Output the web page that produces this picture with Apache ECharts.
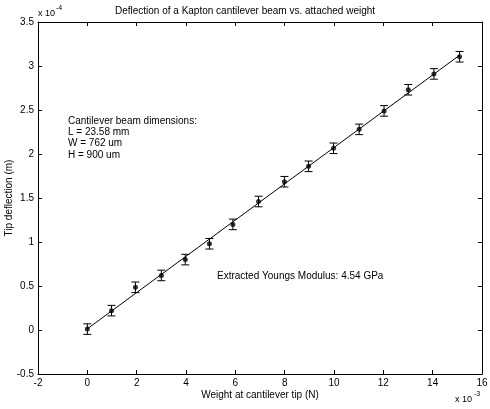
<!DOCTYPE html>
<html>
<head>
<meta charset="utf-8">
<script src="https://cdn.jsdelivr.net/npm/echarts@6/dist/echarts.min.js"></script>
<style>
  html, body { margin: 0; padding: 0; background: #fff; }
  #main { width: 490px; height: 409px; }
</style>
</head>
<body>
<div id="main"></div>
<script>
// weight at tip, x 10^-3 N
var weights = [0, 0.98, 1.95, 3.0, 3.97, 4.95, 5.9, 6.94, 7.99, 8.97, 9.98, 11.02, 12.03, 13.01, 14.05, 15.09];
// tip deflection, x 10^-4 m
var deflection = [0.01, 0.22, 0.485, 0.62, 0.8, 0.98, 1.2, 1.46, 1.685, 1.86, 2.065, 2.28, 2.49, 2.73, 2.91, 3.105];
// error bar half height, x 10^-4 m
var errHalf = [0.06, 0.06, 0.06, 0.06, 0.06, 0.06, 0.06, 0.06, 0.06, 0.06, 0.06, 0.06, 0.06, 0.06, 0.06, 0.06];
var notes = ["Cantilever beam dimensions:", "L = 23.58 mm", "W = 762 um", "H = 900 um"];

var font = "Liberation Sans";
var ink = "#000";

// least squares fit for the straight line
var n = weights.length, sx = 0, sy = 0, sxx = 0, sxy = 0;
for (var i = 0; i < n; i++) {
  sx += weights[i]; sy += deflection[i];
  sxx += weights[i] * weights[i]; sxy += weights[i] * deflection[i];
}
var slope = (n * sxy - sx * sy) / (n * sxx - sx * sx);
var icpt = (sy - slope * sx) / n;
var fitLine = [
  [weights[0], icpt + slope * weights[0]],
  [weights[n - 1], icpt + slope * weights[n - 1]]
];

var errData = weights.map(function (w, i) {
  return [w, deflection[i] - errHalf[i], deflection[i] + errHalf[i]];
});
var ptData = weights.map(function (w, i) { return [w, deflection[i]]; });

function axisBase(showLabel) {
  return {
    axisLine: { show: true, onZero: false, lineStyle: { color: ink, width: 1 } },
    axisTick: { show: true, inside: true, length: 4, lineStyle: { color: ink } },
    axisLabel: { show: showLabel, color: ink, fontFamily: font, fontSize: 10, margin: 4 },
    splitLine: { show: false }
  };
}

var nameStyle = { color: ink, fontFamily: font, fontSize: 10 };
var xAxes = [
  Object.assign(axisBase(true), { type: "value", min: -2, max: 16, interval: 2, position: "bottom",
    name: "Weight at cantilever tip (N)", nameLocation: "middle", nameGap: 16,
    nameMoveOverlap: false, nameTextStyle: nameStyle }),
  Object.assign(axisBase(false), { type: "value", min: -2, max: 16, interval: 2, position: "top" })
];
var yAxes = [
  Object.assign(axisBase(true), { type: "value", min: -0.5, max: 3.5, interval: 0.5, position: "left",
    name: "Tip deflection (m)", nameLocation: "middle", nameGap: 24, nameRotate: 90,
    nameMoveOverlap: false, nameTextStyle: nameStyle }),
  Object.assign(axisBase(false), { type: "value", min: -0.5, max: 3.5, interval: 0.5, position: "right" })
];

var graphics = [
  { type: "text", left: 38, top: 9, style: { text: "x 10", font: "9px " + font, fill: ink } },
  { type: "text", left: 56, top: 5, style: { text: "-4", font: "7px " + font, fill: ink } },
  { type: "text", left: 455, top: 395, style: { text: "x 10", font: "9px " + font, fill: ink } },
  { type: "text", left: 474, top: 391, style: { text: "-3", font: "7px " + font, fill: ink } },
  { type: "text", left: 217, top: 271, style: { text: "Extracted Youngs Modulus: 4.54 GPa", font: "10px " + font, fill: ink } }
];
notes.forEach(function (t, i) {
  graphics.push({ type: "text", left: 68, top: 116 + i * 11.3, style: { text: t, font: "10px " + font, fill: ink } });
});

var option = {
  backgroundColor: "#fff",
  animation: false,
  title: {
    text: "Deflection of a Kapton cantilever beam vs. attached weight",
    left: "center", top: 6, padding: 0,
    textStyle: { color: ink, fontFamily: font, fontSize: 10, fontWeight: "normal" }
  },
  grid: { left: 38, right: 8, top: 22, bottom: 35, outerBoundsMode: "none", containLabel: false },
  xAxis: xAxes,
  yAxis: yAxes,
  graphic: graphics,
  series: [
    {
      name: "fit",
      type: "line",
      data: fitLine,
      showSymbol: false,
      lineStyle: { color: ink, width: 1 },
      z: 2
    },
    {
      name: "err",
      type: "custom",
      data: errData,
      z: 3,
      renderItem: function (params, api) {
        var x = api.value(0);
        var lo = api.coord([x, api.value(1)]);
        var hi = api.coord([x, api.value(2)]);
        var cap = 4;
        var st = { stroke: ink, lineWidth: 1 };
        return {
          type: "group",
          children: [
            { type: "line", shape: { x1: lo[0], y1: lo[1], x2: hi[0], y2: hi[1] }, style: st },
            { type: "line", shape: { x1: lo[0] - cap, y1: lo[1], x2: lo[0] + cap, y2: lo[1] }, style: st },
            { type: "line", shape: { x1: hi[0] - cap, y1: hi[1], x2: hi[0] + cap, y2: hi[1] }, style: st }
          ]
        };
      }
    },
    {
      name: "points",
      type: "scatter",
      data: ptData,
      symbol: "circle",
      symbolSize: 5,
      itemStyle: { color: ink },
      z: 4
    }
  ]
};

var chart = echarts.init(document.getElementById("main"));
chart.setOption(option);
</script>
</body>
</html>
